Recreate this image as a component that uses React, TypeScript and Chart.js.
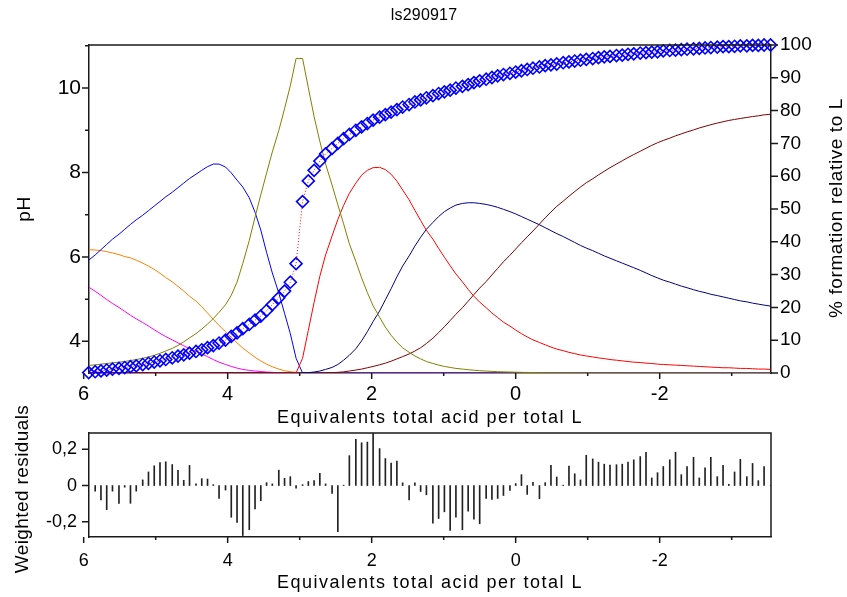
import { useEffect, useRef } from "react";
import { Chart, registerables } from "chart.js";

Chart.register(...registerables);

const FONT = "'Liberation Sans', Arial, Helvetica, sans-serif";
const AXIS_COLOR = "#1a1a1a";

// Equivalents of total acid per total ligand at each titration point
const equivalents = [
  5.93, 5.84, 5.76, 5.68, 5.6, 5.51, 5.43, 5.35, 5.27, 5.18,
  5.1, 5.02, 4.94, 4.86, 4.77, 4.69, 4.61, 4.53, 4.44, 4.36,
  4.28, 4.2, 4.12, 4.03, 3.95, 3.87, 3.79, 3.7, 3.62, 3.54,
  3.46, 3.38, 3.29, 3.21, 3.13, 3.05, 2.96, 2.88, 2.8, 2.72,
  2.64, 2.55, 2.47, 2.39, 2.31, 2.22, 2.14, 2.06, 1.98, 1.89,
  1.81, 1.73, 1.65, 1.57, 1.48, 1.4, 1.32, 1.24, 1.15, 1.07,
  0.99, 0.91, 0.83, 0.74, 0.66, 0.58, 0.5, 0.41, 0.33, 0.25,
  0.17, 0.08, 0.0, -0.08, -0.16, -0.24, -0.33, -0.41, -0.49, -0.57,
  -0.66, -0.74, -0.82, -0.9, -0.98, -1.07, -1.15, -1.23, -1.31, -1.4,
  -1.48, -1.56, -1.64, -1.73, -1.81, -1.89, -1.97, -2.05, -2.14, -2.22,
  -2.3, -2.38, -2.47, -2.55, -2.63, -2.71, -2.8, -2.88, -2.96, -3.04,
  -3.12, -3.21, -3.29, -3.37, -3.45, -3.54,
];

// Measured pH
const phObserved = [
  3.26, 3.28, 3.3, 3.32, 3.34, 3.36, 3.38, 3.4, 3.42, 3.45,
  3.48, 3.51, 3.54, 3.57, 3.61, 3.65, 3.68, 3.72, 3.76, 3.8,
  3.85, 3.9, 3.96, 4.03, 4.12, 4.2, 4.3, 4.4, 4.5, 4.6,
  4.73, 4.87, 5.03, 5.19, 5.4, 5.84, 7.31, 7.8, 8.05, 8.27,
  8.44, 8.57, 8.69, 8.8, 8.9, 9.0, 9.08, 9.16, 9.24, 9.31,
  9.37, 9.43, 9.49, 9.55, 9.61, 9.67, 9.72, 9.77, 9.82, 9.87,
  9.91, 9.95, 10.0, 10.04, 10.08, 10.13, 10.17, 10.21, 10.25, 10.29,
  10.32, 10.35, 10.38, 10.41, 10.44, 10.47, 10.5, 10.53, 10.55, 10.57,
  10.6, 10.62, 10.64, 10.66, 10.68, 10.7, 10.72, 10.74, 10.75, 10.77,
  10.78, 10.8, 10.81, 10.83, 10.84, 10.85, 10.86, 10.88, 10.89, 10.9,
  10.91, 10.92, 10.93, 10.94, 10.95, 10.96, 10.97, 10.98, 10.98, 10.99,
  11.0, 11.0, 11.01, 11.01, 11.02, 11.02,
];

// Weighted residuals of the fit
const residuals = [
  0, -0.031, -0.08, -0.133, -0.031, -0.098, -0.009, -0.098, -0.031, 0.031,
  0.075, 0.109, 0.127, 0.131, 0.116, 0.084, 0.029, 0.111, 0.009, 0.038,
  0.036, 0.005, -0.071, -0.025, -0.175, -0.204, -0.276, -0.244, -0.129, -0.084,
  0.016, 0.009, 0.085, 0.04, 0.049, -0.015, 0.005, 0.022, 0.027, 0.067,
  0.009, -0.044, -0.255, 0.002, 0.165, 0.255, 0.236, 0.24, 0.32, 0.204,
  0.149, 0.124, 0.135, 0.015, -0.08, 0.015, -0.033, -0.051, -0.207, -0.182,
  -0.145, -0.247, -0.175, -0.244, -0.142, -0.185, -0.211, -0.071, -0.076, -0.071,
  -0.055, -0.027, 0.011, 0.06, -0.049, 0.018, -0.073, 0.016, 0.111, 0.047,
  0.002, 0.107, 0.065, 0.031, 0.167, 0.147, 0.129, 0.118, 0.113, 0.115,
  0.118, 0.129, 0.142, 0.16, 0.184, 0.042, 0.071, 0.105, 0.142, 0.184,
  0.06, 0.105, 0.156, 0.042, 0.098, 0.156, 0.049, 0.111, 0.007, 0.075,
  0.145, 0.049, 0.122, 0.027, 0.105, 0,
];

// % formation relative to L for each species
const speciesA = [
  26.2, 24.9, 23.7, 22.4, 21.2, 20.0, 18.8, 17.6, 16.5, 15.4,
  14.3, 13.2, 12.1, 11.1, 10.1, 9.2, 8.3, 7.4, 6.6, 5.8,
  5.0, 4.1, 3.3, 2.6, 2.0, 1.5, 1.1, 0.8, 0.6, 0.45,
  0.3, 0.2, 0.1, 0.05, 0.02, 0, 0, 0, 0, 0,
  0, 0, 0, 0, 0, 0, 0, 0, 0, 0,
  0, 0, 0, 0, 0, 0, 0, 0, 0, 0,
  0, 0, 0, 0, 0, 0, 0, 0, 0, 0,
  0, 0, 0, 0, 0, 0, 0, 0, 0, 0,
  0, 0, 0, 0, 0, 0, 0, 0, 0, 0,
  0, 0, 0, 0, 0, 0, 0, 0, 0, 0,
  0, 0, 0, 0, 0, 0, 0, 0, 0, 0,
  0, 0, 0, 0, 0, 0,
];

const speciesB = [
  37.6, 37.5, 37.3, 37.0, 36.6, 36.1, 35.5, 35.1, 34.4, 33.5,
  32.6, 31.6, 30.4, 29.1, 27.8, 26.4, 25.0, 23.4, 21.9, 20.2,
  18.3, 16.4, 14.5, 12.6, 10.9, 9.2, 7.6, 6.1, 4.8, 3.7,
  2.7, 1.9, 1.2, 0.7, 0.4, 0.2, 0, 0, 0, 0,
  0, 0, 0, 0, 0, 0, 0, 0, 0, 0,
  0, 0, 0, 0, 0, 0, 0, 0, 0, 0,
  0, 0, 0, 0, 0, 0, 0, 0, 0, 0,
  0, 0, 0, 0, 0, 0, 0, 0, 0, 0,
  0, 0, 0, 0, 0, 0, 0, 0, 0, 0,
  0, 0, 0, 0, 0, 0, 0, 0, 0, 0,
  0, 0, 0, 0, 0, 0, 0, 0, 0, 0,
  0, 0, 0, 0, 0, 0,
];

const speciesC = [
  34.4, 36.0, 37.6, 39.2, 40.8, 42.3, 43.8, 45.3, 46.7, 48.1,
  49.5, 50.9, 52.3, 53.7, 55.1, 56.5, 57.9, 59.3, 60.6, 61.8,
  62.9, 63.7, 63.7, 62.8, 61.0, 58.8, 56.7, 53.4, 49.0, 43.6,
  36.8, 30.5, 24.4, 18.2, 12.0, 4.5, 0, 0, 0, 0,
  0, 0, 0, 0, 0, 0, 0, 0, 0, 0,
  0, 0, 0, 0, 0, 0, 0, 0, 0, 0,
  0, 0, 0, 0, 0, 0, 0, 0, 0, 0,
  0, 0, 0, 0, 0, 0, 0, 0, 0, 0,
  0, 0, 0, 0, 0, 0, 0, 0, 0, 0,
  0, 0, 0, 0, 0, 0, 0, 0, 0, 0,
  0, 0, 0, 0, 0, 0, 0, 0, 0, 0,
  0, 0, 0, 0, 0, 0,
];

const speciesD = [
  2.3, 2.5, 2.7, 2.9, 3.1, 3.3, 3.5, 3.8, 4.1, 4.5,
  4.9, 5.4, 6.0, 6.7, 7.5, 8.4, 9.5, 10.7, 12.0, 13.4,
  14.9, 16.6, 18.5, 20.8, 23.7, 27.7, 33.4, 40.4, 47.5, 54.3,
  60.9, 67.4, 73.9, 80.6, 87.6, 95.9, 95.9, 87.0, 78.2, 70.6,
  63.7, 57.3, 51.3, 45.5, 39.4, 34.0, 29.0, 24.5, 20.5, 17.0,
  14.0, 11.5, 9.4, 7.7, 6.3, 5.2, 4.3, 3.5, 2.9, 2.4,
  2.0, 1.7, 1.4, 1.2, 1.0, 0.85, 0.7, 0.6, 0.5, 0.4,
  0.35, 0.3, 0.25, 0.2, 0.17, 0.14, 0.12, 0.1, 0.08, 0.07,
  0.06, 0.05, 0.04, 0.04, 0.03, 0.03, 0.02, 0.02, 0.02, 0.01,
  0.01, 0.01, 0.01, 0.01, 0.01, 0.01, 0.01, 0.01, 0.01, 0.01,
  0.01, 0.01, 0.01, 0.01, 0.01, 0.01, 0, 0, 0, 0,
  0, 0, 0, 0, 0, 0,
];

const speciesE = [
  0, 0, 0, 0, 0, 0, 0, 0, 0, 0,
  0, 0, 0, 0, 0, 0, 0, 0, 0, 0,
  0, 0, 0, 0, 0, 0, 0, 0, 0, 0,
  0, 0, 0, 0, 0, 0, 4.5, 13.0, 21.5, 29.5,
  36.0, 41.8, 46.8, 51.1, 54.8, 57.9, 60.3, 61.8, 62.6, 62.7,
  62.0, 60.6, 58.5, 55.8, 52.8, 49.6, 46.5, 43.5, 40.8, 38.0,
  35.3, 32.7, 30.2, 27.8, 25.5, 23.4, 21.6, 19.9, 18.3, 16.9,
  15.5, 14.3, 13.1, 12.0, 11.0, 10.1, 9.3, 8.6, 7.9, 7.3,
  6.8, 6.3, 5.9, 5.5, 5.2, 4.9, 4.6, 4.4, 4.1, 3.9,
  3.7, 3.5, 3.3, 3.2, 3.0, 2.9, 2.7, 2.6, 2.5, 2.4,
  2.3, 2.2, 2.1, 2.0, 1.9, 1.8, 1.7, 1.6, 1.6, 1.5,
  1.4, 1.4, 1.3, 1.2, 1.2, 1.1,
];

const speciesF = [
  0, 0, 0, 0, 0, 0, 0, 0, 0, 0,
  0, 0, 0, 0, 0, 0, 0, 0, 0, 0,
  0, 0, 0, 0, 0, 0, 0, 0, 0, 0,
  0, 0, 0, 0, 0, 0, 0, 0.1, 0.3, 0.6,
  1.1, 1.7, 2.6, 3.9, 5.4, 7.4, 9.8, 12.6, 15.7, 18.9,
  22.3, 25.7, 29.3, 32.6, 35.7, 38.7, 41.4, 43.8, 45.9, 47.7,
  49.2, 50.3, 51.2, 51.7, 51.9, 51.9, 51.7, 51.4, 51.0, 50.5,
  49.9, 49.2, 48.5, 47.7, 46.9, 46.1, 45.2, 44.3, 43.4, 42.5,
  41.6, 40.7, 39.8, 38.9, 38.1, 37.3, 36.5, 35.7, 35.0, 34.2,
  33.5, 32.8, 32.1, 31.3, 30.5, 29.7, 29.0, 28.3, 27.7, 27.1,
  26.5, 26.0, 25.4, 24.9, 24.5, 24.0, 23.6, 23.2, 22.8, 22.4,
  22.0, 21.7, 21.3, 21.0, 20.7, 20.4,
];

const speciesG = [
  0, 0, 0, 0, 0, 0, 0, 0, 0, 0,
  0, 0, 0, 0, 0, 0, 0, 0, 0, 0,
  0, 0, 0, 0, 0, 0, 0, 0, 0, 0,
  0, 0, 0, 0, 0, 0, 0, 0, 0, 0,
  0.05, 0.1, 0.2, 0.35, 0.6, 0.9, 1.2, 1.6, 2.0, 2.5,
  3.0, 3.6, 4.3, 5.0, 5.8, 6.7, 7.7, 9.0, 10.6, 12.3,
  14.1, 16.0, 17.9, 19.9, 21.9, 23.9, 25.9, 27.9, 29.9, 31.9,
  33.9, 35.9, 37.8, 39.7, 41.5, 43.3, 45.4, 47.3, 49.1, 50.8,
  52.4, 53.9, 55.3, 56.7, 58.0, 59.2, 60.4, 61.5, 62.6, 63.7,
  64.7, 65.7, 66.6, 67.6, 68.5, 69.4, 70.2, 70.9, 71.6, 72.3,
  72.9, 73.5, 74.1, 74.7, 75.2, 75.7, 76.2, 76.6, 77.0, 77.3,
  77.6, 77.9, 78.2, 78.4, 78.7, 78.9,
];

// Listed top-most first (Chart.js paints the first dataset last)
const speciesSeries = [speciesD, speciesE, speciesF, speciesG, speciesC, speciesB, speciesA];
const speciesColors = ["#808000", "#ff0000", "#000080", "#800000", "#0000ff", "#ff8000", "#ff00ff"];

// Axis ranges and ticks
const X_MIN = -3.546;
const X_MAX = 5.926;
const xMajorTicks = [6, 4, 2, 0, -2];
const xMinorTicks = [5, 3, 1, -1, -3];
const phMajorTicks = [10, 8, 6, 4];
const phMinorTicks = [11, 9, 7, 5];
const percentTicks = [0, 10, 20, 30, 40, 50, 60, 70, 80, 90, 100];
const residualTicks = [-0.2, 0, 0.2];

const tickFont = (size: number) => ({ family: FONT, size });

function drawLabel(
  ctx: CanvasRenderingContext2D,
  text: string,
  x: number,
  y: number,
  size: number,
  spacing: number,
  vertical: boolean,
) {
  ctx.save();
  ctx.font = `${size}px ${FONT}`;
  (ctx as any).letterSpacing = `${spacing}px`;
  ctx.fillStyle = "#000";
  ctx.textAlign = "center";
  ctx.textBaseline = "alphabetic";
  ctx.translate(x, y);
  if (vertical) ctx.rotate(-Math.PI / 2);
  ctx.fillText(text, 0, 0);
  ctx.restore();
}

function addTicks(
  ctx: CanvasRenderingContext2D,
  scale: any,
  values: number[],
  len: number,
  dir: "down" | "left" | "right",
  edge: number,
) {
  for (const v of values) {
    const p = scale.getPixelForValue(v);
    if (dir === "down") {
      ctx.moveTo(p, edge);
      ctx.lineTo(p, edge + len);
    } else if (dir === "left") {
      ctx.moveTo(edge, p);
      ctx.lineTo(edge - len, p);
    } else {
      ctx.moveTo(edge, p);
      ctx.lineTo(edge + len, p);
    }
  }
}

const topDecor = {
  id: "topDecor",
  afterDraw(chart: any) {
    const { ctx, chartArea: a, scales } = chart;
    ctx.save();
    ctx.strokeStyle = AXIS_COLOR;
    ctx.lineWidth = 1.5;
    ctx.beginPath();
    ctx.moveTo(a.left, a.top);
    ctx.lineTo(a.right, a.top);
    addTicks(ctx, scales.x, xMajorTicks, 6, "down", a.bottom);
    addTicks(ctx, scales.x, xMinorTicks, 3, "down", a.bottom);
    addTicks(ctx, scales.y, phMajorTicks, 7, "left", a.left);
    addTicks(ctx, scales.y, phMinorTicks, 4, "left", a.left);
    addTicks(ctx, scales.y1, percentTicks, 7, "right", a.right);
    ctx.stroke();
    ctx.restore();

    drawLabel(ctx, "ls290917", 424, 20, 16, 0.2, false);
    drawLabel(ctx, "Equivalents total acid per total L", 430, 423, 18, 1.5, false);
    drawLabel(ctx, "pH", 30, 209, 19, 0.5, true);
    drawLabel(ctx, "% formation relative to L", 842, 208, 19, 0.6, true);
  },
};

const bottomDecor = {
  id: "bottomDecor",
  afterDraw(chart: any) {
    const { ctx, chartArea: a, scales } = chart;
    ctx.save();
    ctx.strokeStyle = AXIS_COLOR;
    ctx.lineWidth = 1.5;
    ctx.beginPath();
    ctx.moveTo(a.left, a.top);
    ctx.lineTo(a.right, a.top);
    ctx.lineTo(a.right, a.bottom);
    addTicks(ctx, scales.x, xMajorTicks, 6, "down", a.bottom);
    addTicks(ctx, scales.x, xMinorTicks, 3, "down", a.bottom);
    addTicks(ctx, scales.y, residualTicks, 7, "left", a.left);
    ctx.stroke();
    ctx.restore();

    drawLabel(ctx, "Weighted residuals", 28, 109, 19, 0.4, true);
    drawLabel(ctx, "Equivalents total acid per total L", 430, 208, 18, 1.5, false);
  },
};

const axisBorder = { display: true, color: AXIS_COLOR, width: 1.5 };
const noGrid = { display: false, drawTicks: false };

export default function App() {
  const topRef = useRef<HTMLCanvasElement | null>(null);
  const bottomRef = useRef<HTMLCanvasElement | null>(null);

  useEffect(() => {
    if (!topRef.current || !bottomRef.current) return;

    const phPoints = equivalents.map((x, i) => ({ x, y: phObserved[i] }));

    const speciesDatasets = speciesSeries.map((series, k) => ({
      label: `species ${k + 1}`,
      data: equivalents.map((x, i) => ({ x, y: series[i] })),
      yAxisID: "y1",
      borderColor: speciesColors[k],
      borderWidth: 1,
      pointRadius: 0,
      tension: 0,
      fill: false,
      order: 1,
    }));

    const top = new Chart(topRef.current, {
      type: "line",
      data: {
        datasets: [
          {
            label: "pH",
            data: phPoints,
            yAxisID: "y",
            borderColor: "#ff0000",
            borderWidth: 1,
            borderDash: [1, 2],
            pointStyle: "rectRot",
            pointRadius: 6,
            pointBorderColor: "#0000ff",
            pointBackgroundColor: "rgba(0,0,0,0)",
            pointBorderWidth: 1.6,
            tension: 0,
            fill: false,
            clip: false as any,
            order: 0,
          },
          ...speciesDatasets,
        ] as any,
      },
      options: {
        responsive: false,
        animation: false,
        devicePixelRatio: 1,
        events: [],
        layout: { padding: { top: 45, right: 0, bottom: 0, left: 0 } },
        plugins: {
          legend: { display: false },
          title: { display: false },
          tooltip: { enabled: false },
        },
        scales: {
          x: {
            type: "linear",
            position: "bottom",
            reverse: true,
            min: X_MIN,
            max: X_MAX,
            bounds: "data",
            grid: noGrid,
            border: axisBorder,
            ticks: {
              autoSkip: false,
              padding: 9,
              color: "#000",
              font: tickFont(20),
              maxRotation: 0,
              callback: (v: any) => String(v),
            },
            afterBuildTicks: (s: any) => {
              s.ticks = xMajorTicks.map((value) => ({ value }));
            },
            afterFit: (s: any) => {
              s.height = 57;
            },
          },
          y: {
            type: "linear",
            position: "left",
            min: 3.25,
            max: 11.02,
            bounds: "data",
            grid: noGrid,
            border: axisBorder,
            ticks: {
              autoSkip: false,
              padding: 8,
              color: "#000",
              font: tickFont(21),
              callback: (v: any) => String(v),
            },
            afterBuildTicks: (s: any) => {
              s.ticks = phMajorTicks.map((value) => ({ value }));
            },
            afterFit: (s: any) => {
              s.width = 89;
            },
          },
          y1: {
            type: "linear",
            position: "right",
            min: 0,
            max: 100,
            bounds: "data",
            grid: noGrid,
            border: axisBorder,
            ticks: {
              autoSkip: false,
              padding: 9,
              color: "#000",
              font: tickFont(19),
              callback: (v: any) => String(v),
            },
            afterBuildTicks: (s: any) => {
              s.ticks = percentTicks.map((value) => ({ value }));
            },
            afterFit: (s: any) => {
              s.width = 76;
            },
          },
        },
      } as any,
      plugins: [topDecor],
    });

    const bottom = new Chart(bottomRef.current, {
      type: "bar",
      data: {
        datasets: [
          {
            label: "residuals",
            data: equivalents.map((x, i) => ({ x, y: residuals[i] })),
            backgroundColor: "#222",
            borderWidth: 0,
            barThickness: 1,
          },
        ] as any,
      },
      options: {
        responsive: false,
        animation: false,
        devicePixelRatio: 1,
        events: [],
        layout: { padding: { top: 53, right: 76, bottom: 0, left: 0 } },
        plugins: {
          legend: { display: false },
          title: { display: false },
          tooltip: { enabled: false },
        },
        scales: {
          x: {
            type: "linear",
            position: "bottom",
            reverse: true,
            offset: false,
            min: X_MIN,
            max: X_MAX,
            bounds: "data",
            grid: { ...noGrid, offset: false },
            border: axisBorder,
            ticks: {
              autoSkip: false,
              padding: 13,
              color: "#000",
              font: tickFont(18),
              maxRotation: 0,
              callback: (v: any) => String(v),
            },
            afterBuildTicks: (s: any) => {
              s.ticks = xMajorTicks.map((value) => ({ value }));
            },
            afterFit: (s: any) => {
              s.height = 60;
            },
          },
          y: {
            type: "linear",
            position: "left",
            min: -0.284,
            max: 0.29,
            bounds: "data",
            grid: noGrid,
            border: axisBorder,
            ticks: {
              autoSkip: false,
              padding: 12,
              color: "#000",
              font: tickFont(18),
              callback: (v: any) => (v === 0 ? "0" : String(v).replace(".", ",")),
            },
            afterBuildTicks: (s: any) => {
              s.ticks = residualTicks.map((value) => ({ value }));
            },
            afterFit: (s: any) => {
              s.width = 89;
            },
          },
        },
      } as any,
      plugins: [bottomDecor],
    });

    return () => {
      top.destroy();
      bottom.destroy();
    };
  }, []);

  return (
    <div style={{ position: "absolute", left: 0, top: 0, width: 847, height: 597, background: "#fff" }}>
      <canvas ref={topRef} width={847} height={430} style={{ position: "absolute", left: 0, top: 0 }} />
      <canvas ref={bottomRef} width={847} height={217} style={{ position: "absolute", left: 0, top: 380 }} />
    </div>
  );
}
